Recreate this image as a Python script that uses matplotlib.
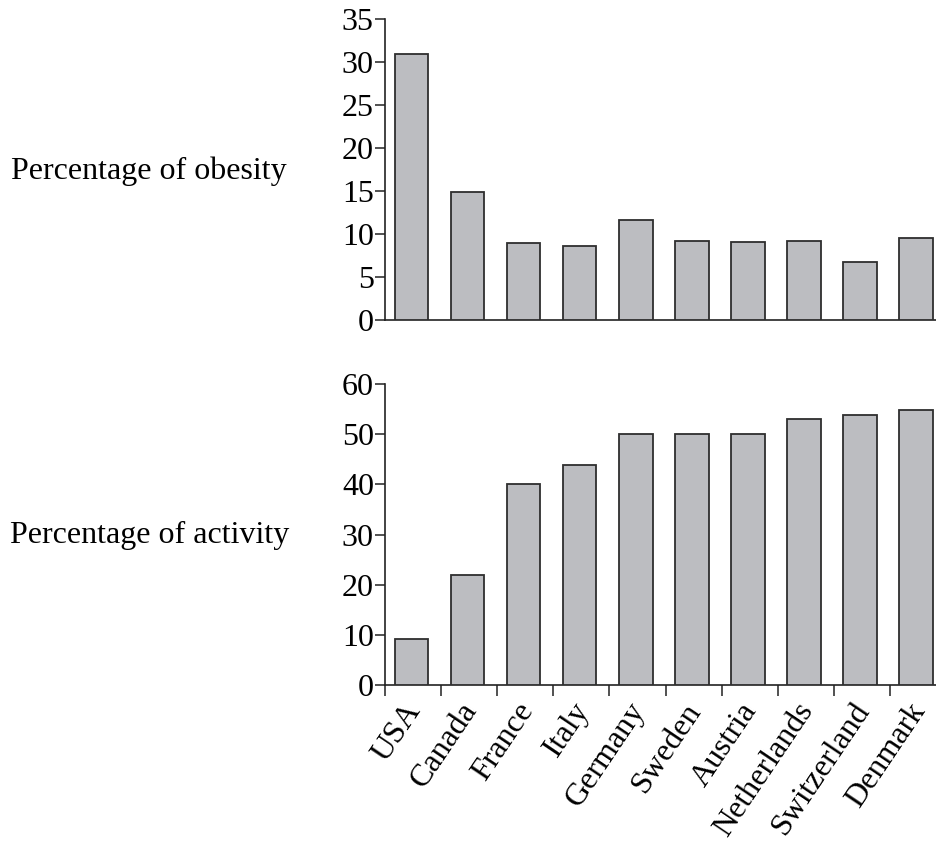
import matplotlib
matplotlib.use("Agg")
import matplotlib.pyplot as plt
import numpy as np

countries = ["USA", "Canada", "France", "Italy", "Germany", "Sweden",
             "Austria", "Netherlands", "Switzerland", "Denmark"]
obesity = [30.9, 14.9, 9.0, 8.6, 11.6, 9.2, 9.1, 9.2, 6.7, 9.5]
activity = [9.1, 22.0, 40.0, 43.9, 50.0, 50.0, 50.0, 53.1, 53.9, 54.8]
obesity_ticks = [0, 5, 10, 15, 20, 25, 30, 35]
activity_ticks = [0, 10, 20, 30, 40, 50, 60]

plt.rcParams['font.family'] = ['Liberation Serif', 'DejaVu Serif']
FS = 23
W, H = 937, 843
fig = plt.figure(figsize=(W / 100, H / 100), dpi=100)

left_px = 385.0
spacing = 56.1
xmin = -0.5
xmax = xmin + (W - left_px) / spacing

bar_color = '#bcbdc1'
edge_color = '#2e2e2e'
x = np.arange(len(countries))


def make_axes(top_px, bottom_px):
    ax = fig.add_axes([left_px / W, 1 - bottom_px / H, (W - left_px) / W,
                       (bottom_px - top_px) / H])
    for s in ['top', 'right']:
        ax.spines[s].set_visible(False)
    for s in ['left', 'bottom']:
        ax.spines[s].set_color('#222222')
        ax.spines[s].set_linewidth(1.2)
    ax.set_xlim(xmin, xmax)
    ax.tick_params(axis='y', direction='out', length=7, width=1.1,
                   color='#222222', labelsize=FS, pad=1)
    return ax


ax1 = make_axes(19, 320)
ax1.bar(x - 0.03, obesity, width=0.6, color=bar_color, edgecolor=edge_color,
        linewidth=1.3, zorder=3)
ax1.set_ylim(0, 35)
ax1.set_yticks(obesity_ticks)
ax1.set_xticks([])

ax2 = make_axes(384, 685)
ax2.bar(x - 0.03, activity, width=0.6, color=bar_color, edgecolor=edge_color,
        linewidth=1.3, zorder=3)
ax2.set_ylim(0, 60)
ax2.set_yticks(activity_ticks)
ax2.set_xticks(x - 0.18)
ax2.set_xticklabels(countries, rotation=56, ha='right', rotation_mode='anchor',
                    fontsize=FS)
ax2.tick_params(axis='x', which='major', length=0, pad=9)
ax2.set_xticks(x - 0.5, minor=True)
ax2.tick_params(axis='x', which='minor', direction='out', length=8, width=1.1,
                color='#222222')

fig.text(287 / W, 1 - 171 / H, "Percentage of obesity", ha='right',
         va='center', fontsize=FS)
fig.text(289 / W, 1 - 535 / H, "Percentage of activity", ha='right',
         va='center', fontsize=FS)

fig.savefig("out.png", dpi=100)
